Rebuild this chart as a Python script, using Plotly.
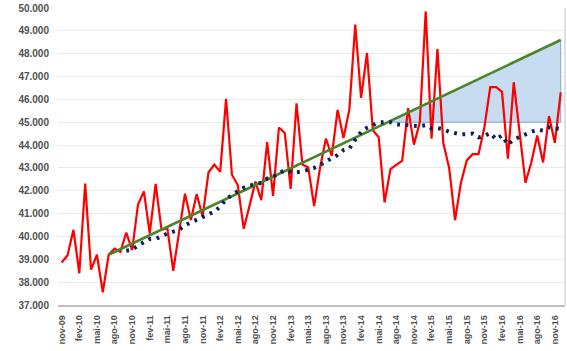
import plotly.graph_objects as go
import pandas as pd

# Monthly categories (nov-09 .. dez-16)
categories = [
    "nov-09", "dez-09",
    "jan-10", "fev-10", "mar-10", "abr-10", "mai-10", "jun-10", "jul-10", "ago-10", "set-10", "out-10", "nov-10", "dez-10",
    "jan-11", "fev-11", "mar-11", "abr-11", "mai-11", "jun-11", "jul-11", "ago-11", "set-11", "out-11", "nov-11", "dez-11",
    "jan-12", "fev-12", "mar-12", "abr-12", "mai-12", "jun-12", "jul-12", "ago-12", "set-12", "out-12", "nov-12", "dez-12",
    "jan-13", "fev-13", "mar-13", "abr-13", "mai-13", "jun-13", "jul-13", "ago-13", "set-13", "out-13", "nov-13", "dez-13",
    "jan-14", "fev-14", "mar-14", "abr-14", "mai-14", "jun-14", "jul-14", "ago-14", "set-14", "out-14", "nov-14", "dez-14",
    "jan-15", "fev-15", "mar-15", "abr-15", "mai-15", "jun-15", "jul-15", "ago-15", "set-15", "out-15", "nov-15", "dez-15",
    "jan-16", "fev-16", "mar-16", "abr-16", "mai-16", "jun-16", "jul-16", "ago-16", "set-16", "out-16", "nov-16", "dez-16",
]

# Monthly series (red line)
values = [
    38860, 39180,
    40290, 38390, 42310, 38550, 39200, 37560, 39200, 39470, 39330, 40170, 39400, 41400,
    41970, 40120, 42300, 40300, 40350, 38500, 40200, 41870, 40720, 41860, 40860, 42800,
    43150, 42830, 46020, 42700, 42240, 40340, 41350, 42400, 41590, 44130, 41780, 44770,
    44530, 42080, 45830, 43150, 43020, 41330, 43000, 44280, 43530, 45540, 44310, 45560,
    49270, 46070, 48030, 44650, 44340, 41490, 42950, 43150, 43320, 45620, 44020, 45000,
    49850, 44280, 48200, 44090, 43000, 40710, 42350, 43330, 43600, 43600, 44780, 46540,
    46540, 46330, 43410, 46750, 44460, 42350, 43250, 44420, 43240, 45270, 44100, 46310,
]

# Linear trend line endpoints (green)
trend_months = ["jul-10", "dez-16"]
trend_values = [39200, 48600]

# Reference level for shaded gap
base_level = 45000
ma_period = 12

tick_labels = categories[::3]

idx = list(range(len(categories)))
ma = pd.Series(values).rolling(ma_period).mean()

t_x = [categories.index(m) for m in trend_months]
slope = (trend_values[1] - trend_values[0]) / (t_x[1] - t_x[0])
cross_x = t_x[0] + (base_level - trend_values[0]) / slope

fig = go.Figure()

fig.add_trace(go.Scatter(
    x=[cross_x, t_x[1], t_x[1], cross_x],
    y=[base_level, trend_values[1], base_level, base_level],
    mode="lines", fill="toself",
    fillcolor="rgb(199,220,240)",
    line=dict(color="#7FA7D4", width=1),
    hoverinfo="skip",
))

fig.add_trace(go.Scatter(
    x=idx, y=values, mode="lines",
    line=dict(color="#FF0000", width=2.2),
))

fig.add_trace(go.Scatter(
    x=t_x, y=trend_values, mode="lines",
    line=dict(color="#4B8529", width=2.6),
))

fig.add_trace(go.Scatter(
    x=idx, y=ma, mode="lines",
    line=dict(color="#0D1F5A", width=4, dash="2.8px,5.6px"),
))

fig.add_shape(type="line", xref="paper", yref="paper", x0=1, x1=1, y0=0, y1=1,
              line=dict(color="#D6D6D6", width=1.5))

fig.update_layout(
    width=567, height=351,
    margin=dict(l=58, r=2, t=6, b=46),
    paper_bgcolor="white", plot_bgcolor="white",
    showlegend=False,
    separators=",.",
    font=dict(family="Liberation Sans", color="#505050"),
    xaxis=dict(
        range=[-0.63, 85.73],
        tickmode="array",
        tickvals=list(range(0, len(categories), 3)),
        ticktext=tick_labels,
        tickangle=-90,
        tickfont=dict(size=9, color="#505050", weight="bold"),
        showgrid=False, zeroline=False,
        showline=True, linecolor="#BFBFBF", linewidth=1.5,
        ticks="outside", ticklen=5, tickcolor="rgba(0,0,0,0)",
    ),
    yaxis=dict(
        range=[37000, 50000],
        dtick=1000, tick0=37000,
        tickformat=",.0f",
        tickfont=dict(size=10, color="#505050", weight="bold"),
        showgrid=True, gridcolor="#EAEAEA", gridwidth=1.2,
        zeroline=False, showline=False,
        ticks="outside", ticklen=6, tickcolor="rgba(0,0,0,0)",
    ),
)

fig.write_html("out.html")
